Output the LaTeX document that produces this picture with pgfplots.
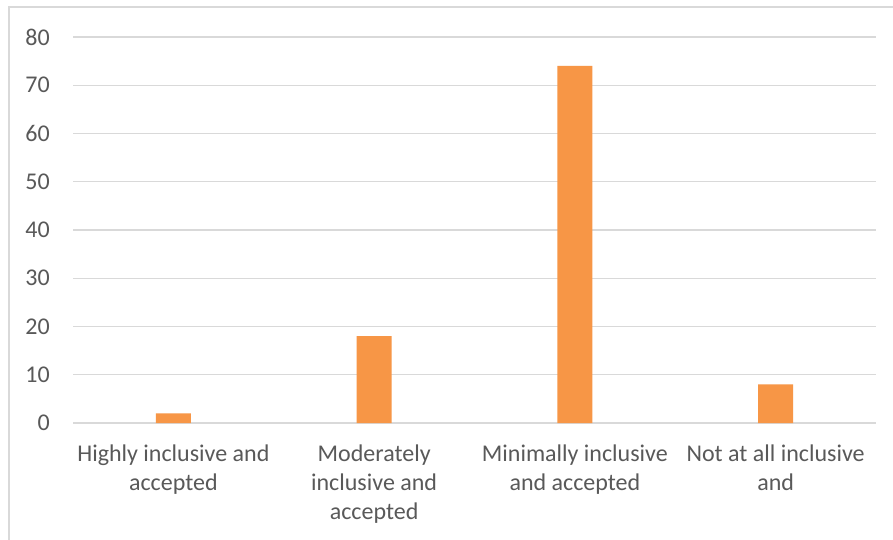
\documentclass[border=0pt]{standalone}
\usepackage{fontspec}
\setmainfont{Carlito}
\usepackage{pgfplots}
\pgfplotsset{compat=1.18}
\definecolor{barorange}{HTML}{F79646}
\definecolor{gridgray}{HTML}{D9D9D9}
\definecolor{textgray}{HTML}{595959}
\begin{document}
\begin{tikzpicture}[x=1pt,y=1pt]
\useasboundingbox (0,0) rectangle (893,539);
\fill[white] (0,0) rectangle (893,539);
\draw[gridgray, line width=1.2pt] (9,-20) -- (9,532) -- (920,532);
\begin{axis}[
  at={(73pt,116pt)}, anchor=south west,
  scale only axis, width=803pt, height=386pt,
  xmin=-0.5, xmax=3.5, ymin=0, ymax=80,
  ytick={0,10,...,80},
  xtick={0,1,2,3},
  xticklabels={{Highly inclusive and\\accepted},{Moderately\\inclusive and\\accepted},{Minimally inclusive\\and accepted},{Not at all inclusive\\and}},
  axis line style={draw=none},
  major tick length=0pt,
  ymajorgrids, grid style={gridgray, line width=1.2pt},
  /pgf/number format/assume math mode=true,
  ticklabel style={font=\fontsize{24}{29}\selectfont, text=textgray, inner sep=0pt},
  yticklabel style={anchor=east, xshift=-23pt},
  xticklabel style={align=center, anchor=north, yshift=-22pt},
  clip=false,
]
\addplot[ybar, bar width=35pt, fill=barorange, draw=none] coordinates {(0,2) (1,18) (2,74) (3,8)};
\end{axis}
\end{tikzpicture}
\end{document}
